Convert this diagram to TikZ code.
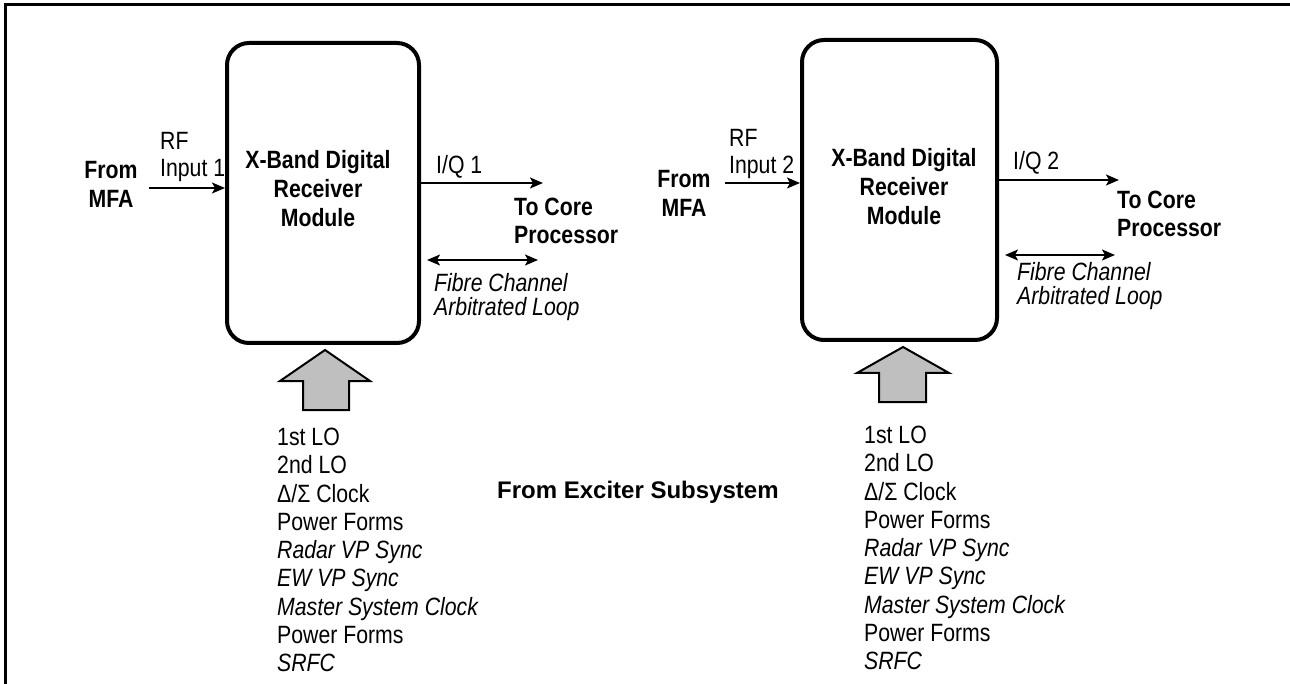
\documentclass[tikz,border=0pt]{standalone}
\usepackage{fontspec}
\setmainfont{Liberation Sans}[FakeStretch=0.85]
\newfontfamily\widefont{Liberation Sans}
\usetikzlibrary{arrows.meta}
\begin{document}
\begin{tikzpicture}[x=1pt,y=-1pt,
  modbox/.style={draw, line width=4pt, rounded corners=22pt, minimum width=192pt, minimum height=300pt, inner sep=0pt},
  boldlbl/.style={font=\bfseries\fontsize{25}{29}\selectfont, align=center, inner sep=0pt},
  plainlbl/.style={font=\fontsize{25}{27}\selectfont, align=left, anchor=west, inner sep=0pt},
  itlbl/.style={font=\itshape\fontsize{25}{24}\selectfont, align=left, anchor=west, inner sep=0pt},
  boldleft/.style={font=\bfseries\fontsize{25}{28}\selectfont, align=left, anchor=west, inner sep=0pt},
  tip/.style={Stealth[length=13pt,width=11pt,inset=3pt]},
  sig/.style={line width=1.8pt, -{Stealth[length=13pt,width=11pt,inset=3pt]}},
  dsig/.style={line width=1.8pt, {Stealth[length=13pt,width=11pt,inset=3pt]}-{Stealth[length=13pt,width=11pt,inset=3pt]}},
  blockarrow/.style={draw, line width=2pt, fill=black!25, line join=miter},
  listtxt/.style={font=\fontsize{25}{28.3}\selectfont, align=left, anchor=west, inner sep=0pt}
]
\useasboundingbox (0,0) rectangle (1290,684);
% frame
\draw[line width=3pt] (1290,5) -- (5,5) -- (5,684);

% ---------- Module 1 ----------
\node[modbox] (box1) at (323,193) {};
\node[boldlbl] (lbl1) at (318,189) {X-Band Digital\\Receiver\\Module};
\node[boldlbl] (mfa1) at (111,184) {From\\MFA};
\node[plainlbl] (rf1) at (160,157) {RF\\Input 1};
\coordinate (in1s) at (149,188);
\draw[sig] (in1s) -- (in1s -| box1.west);
\node[plainlbl] (iq1) at (436,167) {I/Q 1};
\coordinate (out1e) at (543,183);
\draw[sig] (out1e -| box1.east) -- (out1e);
\node[boldleft] (core1) at (514,221) {To Core\\Processor};
\coordinate (fc1a) at (427,260);
\coordinate (fc1b) at (538,260);
\draw[dsig] (fc1a) -- (fc1b);
\node[itlbl] (fcl1) at (434,297) {Fibre Channel\\Arbitrated Loop};
\draw[blockarrow] (303,410) -- (303,381) -- (280,381) -- (325,350) -- (370,381) -- (349,381) -- (349,410) -- cycle;
\node[listtxt] (list1) at (277,550) {1st LO\\2nd LO\\Δ/Σ Clock\\Power Forms\\\textit{Radar VP Sync}\\\textit{EW VP Sync}\\\textit{Master System Clock}\\Power Forms\\\textit{SRFC}};

% ---------- Module 2 ----------
\node[modbox, minimum width=195pt] (box2) at (899.5,190) {};
\node[boldlbl] (lbl2) at (904,187) {X-Band Digital\\Receiver\\Module};
\node[boldlbl] (mfa2) at (684,193) {From\\MFA};
\node[plainlbl] (rf2) at (729,154) {RF\\Input 2};
\coordinate (in2s) at (725,183);
\draw[sig] (in2s) -- (in2s -| box2.west);
\node[plainlbl] (iq2) at (1013,163) {I/Q 2};
\coordinate (out2e) at (1119,180);
\draw[sig] (out2e -| box2.east) -- (out2e);
\node[boldleft] (core2) at (1117,214) {To Core\\Processor};
\coordinate (fc2a) at (1005,255);
\coordinate (fc2b) at (1115,255);
\draw[dsig] (fc2a) -- (fc2b);
\node[itlbl] (fcl2) at (1017,286) {Fibre Channel\\Arbitrated Loop};
\draw[blockarrow] (879,402) -- (879,373) -- (857,373) -- (903,347) -- (949,373) -- (926,373) -- (926,402) -- cycle;
\node[listtxt] (list2) at (864,548) {1st LO\\2nd LO\\Δ/Σ Clock\\Power Forms\\\textit{Radar VP Sync}\\\textit{EW VP Sync}\\\textit{Master System Clock}\\Power Forms\\\textit{SRFC}};

\node[font=\widefont\bfseries\fontsize{24}{27}\selectfont, anchor=west, inner sep=0pt] (exc) at (497,492) {From Exciter Subsystem};
\end{tikzpicture}
\end{document}
